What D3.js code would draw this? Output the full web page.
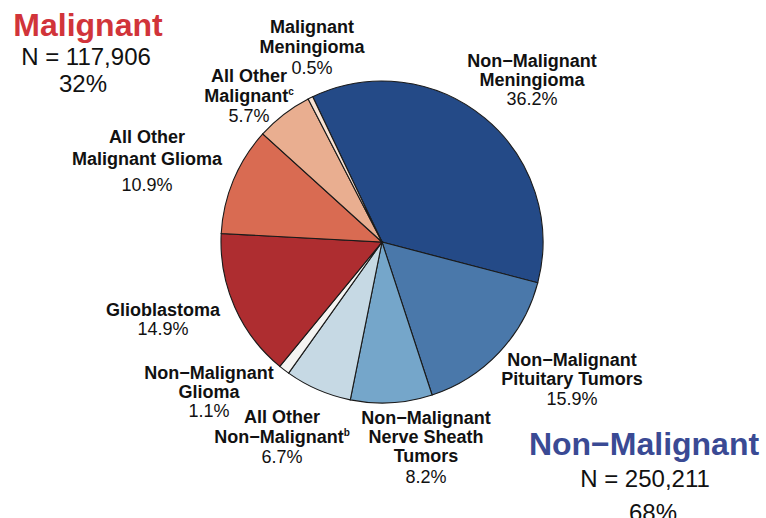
<!DOCTYPE html>
<html>
<head>
<meta charset="utf-8">
<script src="https://cdn.jsdelivr.net/npm/d3@7"></script>
<style>
  body { margin: 0; background: #ffffff; }
  svg text { font-family: "Liberation Sans", Arial, sans-serif; }
</style>
</head>
<body>
<div class="chart"></div>
<script>
// slice names (clockwise from the top), shares in percent
const categories = [
  'Non-Malignant Meningioma', 'Non-Malignant Pituitary Tumors', 'Non-Malignant Nerve Sheath Tumors',
  'All Other Non-Malignant', 'Non-Malignant Glioma', 'Glioblastoma',
  'All Other Malignant Glioma', 'All Other Malignant', 'Malignant Meningioma'
];
const percents = [36.2, 15.9, 8.2, 6.7, 1.1, 14.9, 10.9, 5.7, 0.5];
const percentLabels = ['36.2%', '15.9%', '8.2%', '6.7%', '1.1%', '14.9%', '10.9%', '5.7%', '0.5%'];
// label lines as drawn, [text, superscript]
const labelLines = [
  [['Non\u2212Malignant'], ['Meningioma']],
  [['Non\u2212Malignant'], ['Pituitary Tumors']],
  [['Non\u2212Malignant'], ['Nerve Sheath'], ['Tumors']],
  [['All Other'], ['Non\u2212Malignant', 'b']],
  [['Non\u2212Malignant'], ['Glioma']],
  [['Glioblastoma']],
  [['All Other'], ['Malignant Glioma']],
  [['All Other'], ['Malignant', 'c']],
  [['Malignant'], ['Meningioma']]
];
const groupNames = ['Malignant', 'Non\u2212Malignant'];
const groupCounts = ['N = 117,906', 'N = 250,211'];
const groupShares = ['32%', '68%'];

// styling / layout
const sliceColors = ['#244a87', '#4a78aa', '#75a6ca', '#c6d9e4', '#f4f4f2',
                     '#ae2d30', '#d96b52', '#e9ae90', '#fae3d3'];
// x, first baseline, line step, extra gap before percent
const labelPos = [[532, 67, 19, 0], [572, 366, 19, 1], [426, 424, 19, 2], [282, 423, 20, 0],
                  [209, 379, 19, 0], [163, 316, 19, 0], [147, 143, 22, 4], [249, 82, 20, 0],
                  [312, 33, 20, 1]];
const width = 766, height = 518;
const cx = 382, cy = 242, radius = 161;
const start = -25.5 * Math.PI / 180;

const svg = d3.select('.chart')
  .append('svg')
  .attr('width', width)
  .attr('height', height);

const pie = d3.pie()
  .sort(null)
  .startAngle(start)
  .endAngle(start + 2 * Math.PI);

const arc = d3.arc().innerRadius(0).outerRadius(radius);

svg.append('g')
  .attr('transform', `translate(${cx},${cy})`)
  .selectAll('path')
  .data(pie(percents))
  .enter()
  .append('path')
  .attr('d', arc)
  .attr('fill', (d, i) => sliceColors[i])
  .attr('stroke', '#1a1a1a')
  .attr('stroke-width', 1.1);

// slice labels
const labels = svg.selectAll('.slice-label')
  .data(categories)
  .enter()
  .append('text')
  .attr('class', 'slice-label')
  .attr('text-anchor', 'middle')
  .attr('fill', '#111');

labels.each(function (name, i) {
  const t = d3.select(this);
  const [x, y, step, gap] = labelPos[i];
  labelLines[i].forEach((ln, j) => {
    t.append('tspan')
      .attr('x', x)
      .attr('y', y + j * step)
      .style('font-size', '18px')
      .style('font-weight', 'bold')
      .text(ln[0]);
    if (ln[1]) {
      t.append('tspan')
        .attr('dy', -7)
        .style('font-size', '10px')
        .style('font-weight', 'bold')
        .text(ln[1]);
    }
  });
  t.append('tspan')
    .attr('x', x)
    .attr('y', y + labelLines[i].length * step + gap)
    .style('font-size', '18px')
    .text(percentLabels[i]);
});

// group headers
const groupPos = [[88, 36, 86, 65, 83, 92], [644, 455, 645, 487, 653, 521]];
const groupColors = ['#d1343a', '#3a4a94'];
groupNames.forEach((g, i) => {
  const p = groupPos[i];
  svg.append('text')
    .attr('x', p[0]).attr('y', p[1])
    .attr('text-anchor', 'middle')
    .style('font-size', '32px')
    .style('font-weight', 'bold')
    .attr('fill', groupColors[i])
    .text(g);
  svg.append('text')
    .attr('x', p[2]).attr('y', p[3])
    .attr('text-anchor', 'middle')
    .style('font-size', '24px')
    .attr('fill', '#111')
    .text(groupCounts[i]);
  svg.append('text')
    .attr('x', p[4]).attr('y', p[5])
    .attr('text-anchor', 'middle')
    .style('font-size', '24px')
    .attr('fill', '#111')
    .text(groupShares[i]);
});
</script>
</body>
</html>
